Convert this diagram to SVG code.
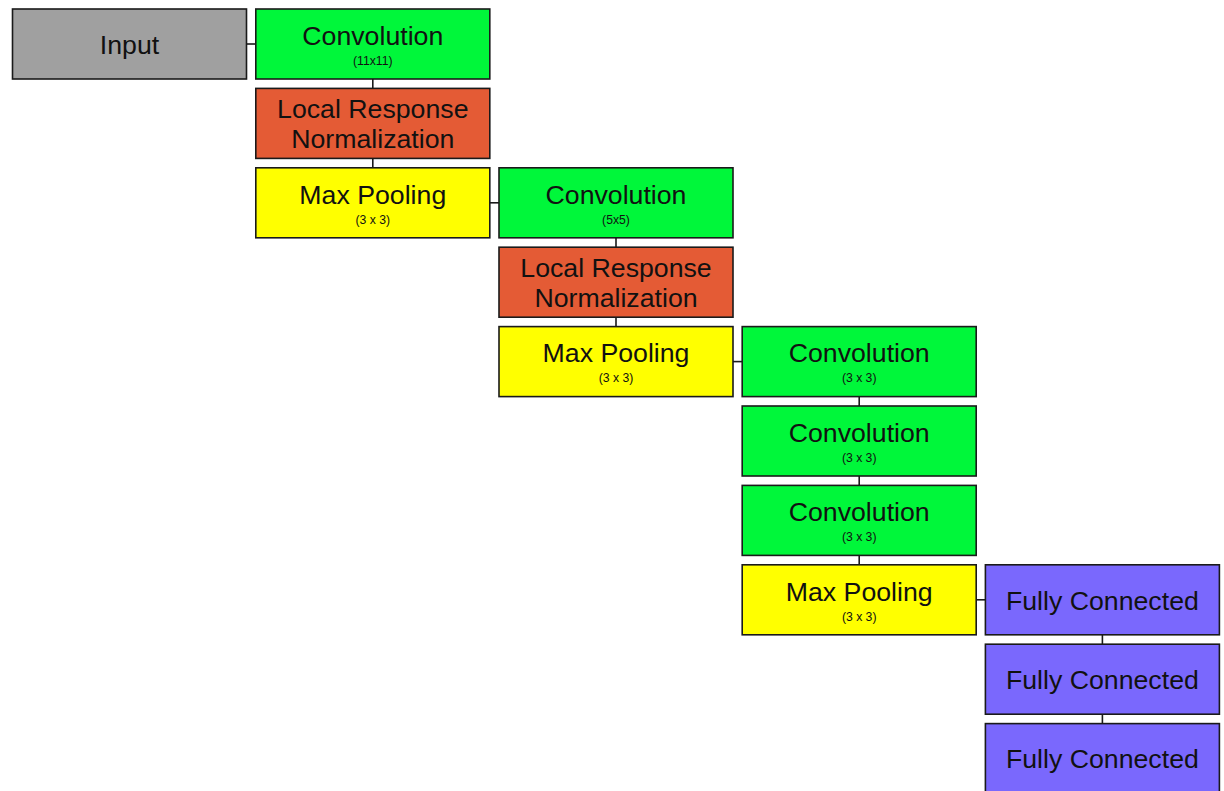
<svg xmlns="http://www.w3.org/2000/svg" width="1224" height="791" viewBox="0 0 1224 791">
<style>
rect{stroke:#1a1a1a;stroke-width:1.6}
.in{fill:#a0a0a0}
.cv{fill:#00f73a}
.lr{fill:#e45b35}
.mp{fill:#ffff00}
.fc{fill:#7a68fd}
text{font-family:"Liberation Sans",Arial,sans-serif;fill:#111;text-anchor:middle}
.t{font-size:26.7px}
.s{font-size:12.2px}
#edges line{stroke:#1a1a1a;stroke-width:1.6}
</style>
<rect width="1224" height="791" fill="#fff" style="stroke:none"/>
<g id="edges">
<line x1="246.5" y1="44" x2="255.8" y2="44"/>
<line x1="372.8" y1="79" x2="372.8" y2="88.4"/>
<line x1="372.8" y1="158.4" x2="372.8" y2="167.8"/>
<line x1="489.8" y1="202.8" x2="499" y2="202.8"/>
<line x1="616" y1="237.8" x2="616" y2="247.2"/>
<line x1="616" y1="317.2" x2="616" y2="326.6"/>
<line x1="733" y1="361.6" x2="742.2" y2="361.6"/>
<line x1="859.2" y1="396.6" x2="859.2" y2="406"/>
<line x1="859.2" y1="476" x2="859.2" y2="485.4"/>
<line x1="859.2" y1="555.4" x2="859.2" y2="564.8"/>
<line x1="976.2" y1="599.8" x2="985.4" y2="599.8"/>
<line x1="1102.4" y1="634.8" x2="1102.4" y2="644.2"/>
<line x1="1102.4" y1="714.2" x2="1102.4" y2="723.6"/>
</g>
<g id="input"><rect class="in" x="12.5" y="9" width="234" height="70"/><text class="t" x="129.5" y="53.5">Input</text></g>
<g id="conv1"><rect class="cv" x="255.8" y="9" width="234" height="70"/><text class="t" x="372.8" y="45">Convolution</text><text class="s" x="372.8" y="65">(11x11)</text></g>
<g id="lrn1"><rect class="lr" x="255.8" y="88.4" width="234" height="70"/><text class="t" x="372.8" y="118">Local Response</text><text class="t" x="372.8" y="147.5">Normalization</text></g>
<g id="pool1"><rect class="mp" x="255.8" y="167.8" width="234" height="70"/><text class="t" x="372.8" y="203.5">Max Pooling</text><text class="s" x="372.8" y="223.5">(3 x 3)</text></g>
<g id="conv2"><rect class="cv" x="499" y="167.8" width="234" height="70"/><text class="t" x="616" y="203.5">Convolution</text><text class="s" x="616" y="223.5">(5x5)</text></g>
<g id="lrn2"><rect class="lr" x="499" y="247.2" width="234" height="70"/><text class="t" x="616" y="277">Local Response</text><text class="t" x="616" y="306.5">Normalization</text></g>
<g id="pool2"><rect class="mp" x="499" y="326.6" width="234" height="70"/><text class="t" x="616" y="362.3">Max Pooling</text><text class="s" x="616" y="382.3">(3 x 3)</text></g>
<g id="conv3"><rect class="cv" x="742.2" y="326.6" width="234" height="70"/><text class="t" x="859.2" y="362.3">Convolution</text><text class="s" x="859.2" y="382.3">(3 x 3)</text></g>
<g id="conv4"><rect class="cv" x="742.2" y="406" width="234" height="70"/><text class="t" x="859.2" y="441.7">Convolution</text><text class="s" x="859.2" y="461.7">(3 x 3)</text></g>
<g id="conv5"><rect class="cv" x="742.2" y="485.4" width="234" height="70"/><text class="t" x="859.2" y="521.1">Convolution</text><text class="s" x="859.2" y="541.1">(3 x 3)</text></g>
<g id="pool3"><rect class="mp" x="742.2" y="564.8" width="234" height="70"/><text class="t" x="859.2" y="600.5">Max Pooling</text><text class="s" x="859.2" y="620.5">(3 x 3)</text></g>
<g id="fc1"><rect class="fc" x="985.4" y="564.8" width="234" height="70"/><text class="t" x="1102.4" y="609.5">Fully Connected</text></g>
<g id="fc2"><rect class="fc" x="985.4" y="644.2" width="234" height="70"/><text class="t" x="1102.4" y="688.9">Fully Connected</text></g>
<g id="fc3"><rect class="fc" x="985.4" y="723.6" width="234" height="70"/><text class="t" x="1102.4" y="768.3">Fully Connected</text></g>
</svg>
